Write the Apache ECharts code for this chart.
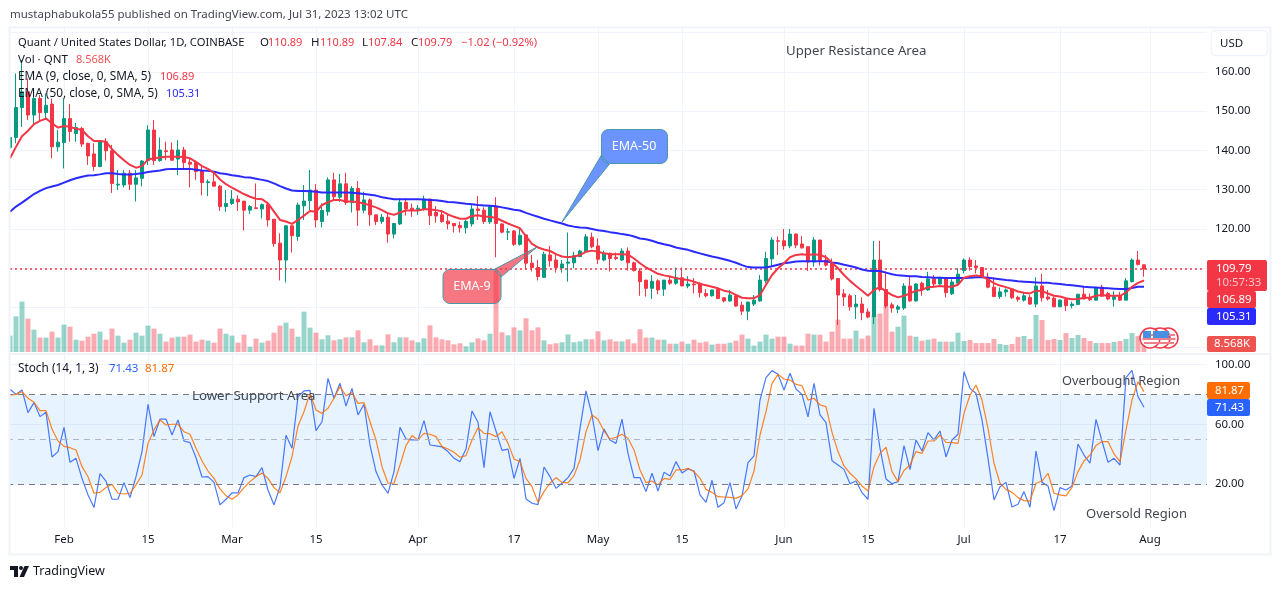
<!DOCTYPE html>
<html>
<head>
<meta charset="utf-8">
<title>QNT/USD</title>
<script src="https://cdn.jsdelivr.net/npm/echarts@6/dist/echarts.min.js"></script>
<style>
html, body { margin: 0; padding: 0; background: #fff; }
#chart { width: 1281px; height: 589px; }
</style>
</head>
<body>
<div id="chart"></div>
<script>
// daily candles, 23 Jan to 31 Jul 2023
var opens = [
    140.7,143.3,150.9,154.9,149.0,153.2,149.6,151.8,140.9,142.0,
    148.1,144.3,145.6,141.8,139.1,135.9,142.2,139.9,131.2,131.2,
    134.2,131.4,132.9,137.4,145.2,137.4,139.9,140.1,137.8,140.1,
    137.0,136.9,134.8,131.8,132.0,130.9,125.7,126.5,127.6,127.1,
    124.8,125.4,125.1,126.2,122.5,116.4,112.1,120.8,118.1,125.9,
    127.2,129.9,121.9,124.4,132.5,128.1,131.5,126.7,130.3,124.8,
    127.4,123.6,121.9,123.0,118.7,121.3,126.8,125.3,125.0,125.0,
    127.6,124.2,123.6,122.0,121.4,120.9,120.3,121.3,125.1,124.8,
    121.8,125.7,121.3,119.2,119.5,116.1,118.5,111.3,110.2,107.7,
    113.4,112.1,110.1,111.3,111.4,113.0,114.2,117.9,115.7,112.1,
    113.8,112.8,112.1,114.4,111.4,109.3,107.0,104.9,106.8,104.7,
    107.0,106.2,107.6,105.5,106.0,106.2,103.6,103.0,104.7,102.5,
    101.7,103.0,100.6,99.1,100.9,101.7,106.8,112.4,117.0,117.0,
    115.7,118.7,116.2,115.5,111.6,117.2,112.1,111.3,107.4,103.5,
    103.0,100.2,100.9,98.9,97.7,112.1,104.6,100.7,99.6,99.9,
    105.5,101.7,106.2,104.5,107.3,106.0,107.5,103.5,106.2,109.4,
    112.1,110.6,110.2,107.7,105.2,102.8,104.0,104.7,102.6,101.9,
    102.6,100.9,105.5,102.7,102.4,100.2,102.1,100.5,100.8,103.4,
    102.4,101.9,105.2,103.6,102.1,103.0,101.9,106.6,112.1,110.89
];
var closes = [
    143.3,150.9,154.9,149.0,153.2,149.6,151.5,140.9,142.1,148.1,
    144.8,145.8,141.6,138.6,135.9,142.2,139.9,131.6,131.4,134.2,
    131.4,133.0,137.3,145.2,137.4,140.1,139.7,137.5,140.1,136.9,
    136.5,134.6,131.8,132.0,130.9,125.7,126.5,127.6,126.9,124.8,
    125.7,125.2,126.2,122.3,116.3,112.1,120.8,118.3,126.1,127.1,
    129.9,122.3,124.7,132.5,128.2,131.5,126.7,130.3,124.8,127.4,
    123.6,121.9,123.0,118.7,121.4,126.8,125.1,124.8,125.3,127.6,
    123.4,123.3,121.9,121.3,120.8,120.3,121.9,125.1,124.7,121.9,
    125.7,121.4,119.2,119.3,116.1,118.4,111.3,110.2,107.9,113.6,
    111.9,110.2,111.1,111.6,113.2,114.4,118.0,115.5,112.3,113.6,
    112.5,112.5,114.4,111.4,109.4,106.6,104.9,106.7,104.5,107.0,
    106.2,107.6,105.5,106.0,105.8,103.8,103.0,104.5,102.3,101.7,
    103.2,100.4,99.1,101.4,101.9,107.0,112.5,117.2,116.9,115.7,
    118.7,115.9,115.2,111.6,117.2,111.9,110.8,107.3,103.2,102.7,
    100.2,100.9,98.7,97.6,112.1,104.6,100.4,99.9,100.2,105.5,
    101.7,106.0,104.5,107.3,106.0,107.6,103.8,106.5,108.5,112.1,
    110.4,110.2,107.7,105.2,102.8,104.0,104.5,102.5,102.1,103.0,
    100.9,105.5,102.5,102.2,100.2,101.9,100.5,100.9,103.4,102.2,
    102.0,105.1,102.9,102.2,102.8,101.9,106.8,112.1,111.0,109.79
];
var highs = [
    145.2,159.6,163.0,158.3,155.8,154.1,154.5,153.2,145.2,153.2,
    151.8,147.0,146.0,142.0,141.8,142.6,143.1,141.4,135.0,135.0,
    135.0,135.0,137.5,146.4,147.7,143.3,142.2,142.0,142.6,140.9,
    138.0,137.4,136.3,132.6,134.6,131.2,129.9,129.9,128.6,127.1,
    126.1,131.6,126.5,126.9,122.5,118.9,121.0,121.0,126.7,131.2,
    135.0,131.4,126.5,133.1,134.3,134.0,134.3,130.9,132.2,129.5,
    127.8,123.7,123.8,124.0,121.4,127.8,127.8,126.5,126.1,128.5,
    127.8,125.8,124.8,123.6,121.4,121.9,122.3,126.1,128.4,125.5,
    126.1,128.1,121.4,120.2,119.7,120.4,118.6,113.4,112.1,114.2,
    115.7,113.4,112.1,119.1,114.2,114.7,118.7,119.1,117.6,114.5,
    114.0,114.0,115.1,115.3,111.7,110.0,107.0,108.3,107.2,107.0,
    107.9,110.2,110.2,108.0,107.5,106.4,104.7,104.5,104.7,102.5,
    104.5,103.2,101.5,101.5,103.2,108.3,114.2,117.9,118.1,120.0,
    120.0,118.9,118.2,115.5,117.9,117.2,113.4,112.5,107.4,104.7,
    103.5,103.2,102.6,99.8,117.0,117.0,109.2,101.3,100.7,106.2,
    108.0,106.2,106.6,109.1,108.3,107.9,107.5,107.2,110.0,112.5,
    112.8,112.1,110.2,108.9,107.7,105.1,104.9,104.9,103.0,104.0,
    103.2,107.7,108.6,104.5,102.8,102.1,102.4,101.5,103.5,105.3,
    103.6,105.3,105.8,104.0,104.2,104.0,107.5,112.5,114.4,110.89
];
var lows = [
    139.2,141.8,146.0,147.7,146.4,147.3,147.7,138.0,139.7,135.4,
    142.2,142.2,140.9,136.3,134.8,135.7,137.4,129.2,129.9,130.6,
    129.9,127.0,130.8,136.3,136.3,137.1,137.5,137.4,133.7,135.0,
    130.6,132.5,128.6,128.4,130.8,124.6,124.4,126.1,124.6,119.6,
    123.8,125.2,122.7,120.6,115.5,106.9,106.4,114.0,117.0,122.3,
    124.8,120.4,120.4,123.4,127.4,126.9,126.1,124.2,120.8,124.0,
    120.8,121.0,121.3,116.5,117.6,121.0,123.4,123.1,123.6,124.7,
    121.0,121.6,121.6,119.9,119.1,119.1,118.9,120.6,122.3,121.3,
    121.3,112.8,118.9,117.2,115.7,115.8,109.7,109.2,106.9,107.7,
    110.4,108.9,108.9,106.6,110.0,112.8,114.0,115.1,111.1,111.8,
    109.2,112.1,111.9,109.4,109.2,103.0,102.8,102.2,103.4,103.0,
    105.8,105.8,105.5,104.9,103.6,102.6,102.6,102.8,102.2,101.3,
    101.5,100.2,98.1,96.8,100.4,101.5,106.2,110.4,113.4,114.7,
    115.1,115.1,115.0,109.3,110.4,110.7,110.4,106.9,95.6,100.4,
    99.2,97.1,96.8,97.3,95.8,104.1,99.8,98.7,98.6,99.4,
    101.5,101.5,103.0,104.3,105.2,105.8,102.6,103.2,105.8,108.7,
    109.4,108.7,107.5,104.9,102.8,102.2,102.8,102.2,101.5,101.5,
    100.7,100.1,101.5,101.8,100.1,100.1,99.1,99.8,100.7,102.1,
    101.7,101.8,102.8,101.9,100.2,101.7,101.8,106.4,110.7,107.84
];
var volumes = [
    17.5,38.2,53.9,35.7,23.9,15.4,15.4,21.8,15.4,29.3,
    27.1,13.2,12.1,16.4,19.6,21.8,13.2,25.0,17.5,10.0,
    13.2,20.7,17.5,28.2,25.0,19.6,11.1,15.4,16.4,16.4,
    18.6,11.1,13.2,12.1,10.0,25.0,19.6,17.5,10.0,18.6,
    5.7,14.3,10.0,12.1,20.7,28.2,31.4,25.0,16.4,43.2,
    26.1,20.7,13.6,17.9,12.5,13.6,15.7,15.7,23.2,10.4,
    13.6,7.1,7.1,18.9,10.4,15.7,15.7,12.5,10.4,14.6,
    28.6,15.7,13.6,12.5,8.2,9.3,6.1,10.4,14.6,12.5,
    19.6,87.5,21.1,17.9,26.4,23.2,36.1,23.2,26.4,12.5,
    8.2,9.3,10.4,18.9,10.4,11.4,13.6,13.6,22.1,12.5,
    13.6,11.4,11.4,13.6,9.3,24.3,15.4,15.4,13.2,13.2,
    8.9,8.9,11.1,8.9,13.2,10.0,11.1,7.9,8.9,8.9,
    10.0,12.1,18.6,14.3,6.8,11.1,18.6,14.3,16.4,16.4,
    8.9,6.8,6.8,19.6,18.6,18.6,11.1,21.8,34.6,14.3,
    14.3,22.8,14.3,17.5,40.0,41.1,49.6,21.8,27.1,38.9,
    17.5,16.4,12.1,13.2,14.3,11.1,11.1,11.1,20.7,11.8,
    12.9,9.6,9.6,9.6,13.9,8.6,7.5,8.6,16.1,17.1,
    13.9,39.6,34.3,12.9,13.9,12.9,20.3,15.0,18.2,15.0,
    11.8,9.6,9.6,9.6,10.7,11.8,13.9,20.3,17.1,8.568
];
var ema9 = [
    138.0,140.9,143.6,145.0,146.7,147.5,148.1,146.9,145.8,146.2,
    146.0,145.5,145.2,143.6,142.4,142.4,142.2,140.3,138.8,137.5,
    136.3,135.6,136.0,137.7,138.0,138.2,138.4,138.4,138.4,138.3,
    138.0,137.1,136.0,135.3,134.3,132.6,131.4,130.5,129.7,128.9,
    128.2,127.7,127.6,126.5,124.4,122.3,121.9,121.3,122.3,123.4,
    124.6,124.4,126.1,126.8,127.4,127.4,127.0,127.0,126.8,126.5,
    126.0,125.5,124.8,124.0,123.6,124.2,124.7,124.7,124.7,125.0,
    125.0,124.8,124.5,123.7,123.1,122.6,122.6,123.3,123.5,123.1,
    123.1,122.8,122.1,121.4,120.8,120.2,118.1,116.2,115.3,114.8,
    114.4,113.6,113.0,112.8,113.0,113.4,114.2,114.5,114.2,113.8,
    113.6,113.6,113.6,113.5,112.5,111.3,110.2,109.4,108.6,108.2,
    107.9,107.5,107.2,107.0,106.6,106.0,105.7,105.3,104.9,104.3,
    104.0,103.2,102.5,102.4,102.4,103.2,105.8,108.3,110.0,111.3,
    112.8,113.4,113.6,113.4,113.6,113.4,112.8,111.4,110.0,108.3,
    106.8,105.5,104.3,103.0,104.5,105.2,104.1,103.2,102.6,103.0,
    103.6,104.3,104.5,105.2,105.3,105.5,105.3,105.3,105.8,107.6,
    108.0,108.2,107.9,107.2,106.2,105.6,105.2,104.7,104.1,103.8,
    103.6,104.3,104.2,103.6,103.0,102.8,102.4,102.1,102.2,102.5,
    102.5,103.0,103.2,103.0,103.0,103.0,103.8,105.3,106.3,106.89
];
var ema50 = [
    124.4,125.7,126.7,127.8,128.9,129.7,130.4,130.8,131.2,131.8,
    132.4,132.9,133.3,133.6,133.7,133.9,134.2,134.2,134.0,133.9,
    133.9,134.0,134.2,134.5,134.7,134.9,135.2,135.3,135.3,135.3,
    135.3,135.1,134.9,134.8,134.6,134.2,134.0,133.7,133.5,133.2,
    133.1,132.8,132.5,132.2,131.6,130.9,130.3,129.8,129.7,129.7,
    129.6,129.5,129.3,129.3,129.3,129.3,129.3,129.2,129.1,128.9,
    128.7,128.5,128.1,127.8,127.6,127.6,127.6,127.6,127.6,127.5,
    127.4,127.3,127.1,126.9,126.8,126.6,126.4,126.3,126.1,126.0,
    125.9,125.8,125.5,125.2,124.9,124.7,124.1,123.6,123.1,122.6,
    122.2,121.8,121.4,120.9,120.6,120.4,120.3,120.0,119.7,119.5,
    119.2,119.0,118.7,118.5,118.1,117.6,117.4,117.0,116.5,116.1,
    115.8,115.3,115.0,114.7,114.2,113.8,113.4,113.0,112.7,112.3,
    111.9,111.4,110.8,110.3,110.2,110.2,110.2,110.5,110.9,111.3,
    111.5,111.7,111.8,111.8,111.8,111.8,111.8,111.5,111.3,110.9,
    110.6,110.2,109.7,109.4,109.3,109.3,108.9,108.5,108.2,108.1,
    108.0,108.0,107.8,107.7,107.6,107.6,107.5,107.5,107.5,107.5,
    107.6,107.7,107.7,107.6,107.4,107.2,107.0,106.9,106.7,106.6,
    106.5,106.4,106.3,106.3,106.1,106.0,105.8,105.7,105.5,105.3,
    105.2,105.1,105.0,104.9,104.8,104.7,104.7,105.0,105.3,105.31
];
var stochK = [
    83.4,80.0,83.0,67.8,74.5,65.1,68.0,38.1,41.7,57.9,
    34.5,37.2,23.8,12.7,4.2,26.9,22.0,9.8,9.8,20.9,
    10.9,24.9,41.7,73.4,51.7,63.5,63.5,52.8,62.9,48.8,
    47.7,37.6,24.7,24.9,21.1,6.0,9.8,14.0,14.0,24.3,
    26.0,24.9,31.0,16.0,6.0,18.2,52.6,43.9,78.5,82.3,
    82.7,55.7,61.7,90.7,77.4,87.4,72.2,84.0,66.2,73.4,
    46.1,28.3,19.4,13.8,28.3,57.9,50.1,49.5,49.5,62.4,
    46.1,45.5,44.8,41.7,37.2,35.0,43.4,68.9,61.3,31.0,
    68.4,55.5,42.5,43.4,23.8,37.2,10.0,7.1,6.2,31.4,
    24.9,17.1,20.5,24.3,30.5,57.3,82.3,66.2,42.3,56.8,
    49.5,47.2,63.5,40.5,24.3,24.3,14.9,27.2,15.3,27.8,
    25.4,35.0,27.4,30.1,28.7,12.7,7.7,22.5,4.4,7.5,
    20.9,3.3,12.0,34.3,38.8,76.2,91.2,95.9,93.4,82.9,
    94.1,83.6,80.0,64.9,87.4,66.2,61.1,35.6,32.7,29.8,
    20.2,22.0,14.2,9.8,70.7,43.9,23.4,20.2,21.6,45.7,
    29.6,49.5,42.1,54.4,49.5,55.5,38.1,49.5,53.3,95.2,
    84.0,80.7,62.9,37.2,9.3,18.2,21.1,4.6,6.4,14.9,
    4.4,42.1,21.1,18.7,2.2,17.6,16.0,18.7,46.8,39.4,
    33.9,63.3,48.8,34.5,37.2,32.7,91.2,96.1,78.5,71.43
];
var stochD = [
    79.6,80.0,81.8,77.4,74.7,69.1,69.1,56.8,48.8,45.2,
    44.3,42.8,31.6,24.9,13.8,14.4,17.6,19.8,13.8,13.3,
    13.8,19.4,26.0,47.2,56.2,62.9,59.5,60.0,60.0,55.0,
    53.3,43.9,35.4,28.7,23.8,16.7,12.2,9.8,12.7,17.6,
    21.6,24.9,27.4,23.8,17.6,14.2,24.9,38.3,58.8,68.4,
    80.7,69.5,67.3,70.7,77.4,85.2,79.1,81.2,74.0,74.5,
    61.7,49.5,31.6,20.5,20.5,32.7,45.7,52.4,49.5,53.9,
    53.3,51.7,45.0,43.4,41.2,37.9,39.0,49.5,57.7,53.9,
    53.7,51.7,55.0,47.2,36.7,35.0,23.8,18.2,7.7,14.9,
    20.5,24.3,21.1,20.7,25.6,36.1,55.0,66.2,63.3,55.5,
    50.1,51.3,53.3,50.6,42.8,29.4,20.9,22.0,19.4,23.8,
    23.1,29.4,29.4,30.5,28.3,23.8,16.4,14.4,11.5,11.3,
    11.1,10.4,12.2,16.7,28.7,52.8,68.4,87.4,93.4,90.3,
    89.6,86.7,85.8,76.2,77.4,72.9,71.8,54.6,41.7,32.1,
    27.2,23.4,18.7,15.3,31.6,40.5,44.6,28.3,21.6,29.0,
    32.7,41.7,40.5,48.8,48.8,52.8,47.9,47.7,47.2,67.3,
    79.6,86.3,76.2,57.3,33.9,20.5,16.4,14.4,10.9,8.9,
    8.6,20.5,22.0,27.2,13.8,12.7,12.0,17.8,28.3,35.4,
    39.4,45.7,48.4,48.4,40.1,35.0,56.2,76.2,88.5,81.87
];
// month ticks: category index -> label
var tickIndex = [9, 23, 37, 51, 68, 84, 98, 112, 129, 143, 159, 175, 190];
var tickLabels = ['Feb', '15', 'Mar', '15', 'Apr', '17', 'May', '15', 'Jun', '15', 'Jul', '17', 'Aug'];
var priceLines = [170, 160, 150, 140, 130, 120, 110, 100, 90];
var priceLabels = [160, 150, 140, 130, 120];
var stochLines = [100, 60, 20];
var lastClose = 109.79;

var UP = '#089981', DOWN = '#F23645';
var FONT = '"Noto Sans", sans-serif';

// 200 daily slots so the empty right side of the chart keeps the 6px day width
var days = [];
for (var d = 0; d < 200; d++) {
    days.push(new Date(Date.UTC(2023, 0, 23 + d)).toISOString().slice(0, 10));
}

var candles = opens.map(function (o, i) {
    return [o, closes[i], lows[i], highs[i]];
});
var volumeBars = volumes.map(function (v, i) {
    return {
        value: v,
        itemStyle: { color: closes[i] >= opens[i] ? 'rgba(8,153,129,0.42)' : 'rgba(242,54,69,0.42)' }
    };
});
// last close held across the pane, drawn as the dotted price line
var lastCloseLine = days.map(function () { return lastClose; });

function isTick(index) {
    return tickIndex.indexOf(index) >= 0;
}

function timeAxis(gridIndex, withLabels) {
    return {
        type: 'category',
        gridIndex: gridIndex,
        data: days,
        axisLine: { show: false },
        axisTick: { show: false },
        axisLabel: {
            show: withLabels,
            interval: function (index) { return isTick(index); },
            formatter: function (value, index) {
                var n = tickIndex.indexOf(index);
                return n >= 0 ? tickLabels[n] : '';
            },
            color: '#131722',
            fontFamily: FONT,
            fontSize: 11.5,
            margin: 7
        },
        splitLine: {
            show: gridIndex !== 1,
            alignWithLabel: true,
            interval: function (index) { return isTick(index); },
            lineStyle: { color: '#f0f3fa', width: 1 }
        }
    };
}

// ---- everything around the plot: header, legends, price boxes, notes
var overlay = [];

function txt(x, y, text, color, size, weight, align) {
    overlay.push({
        type: 'text', x: x, y: y + 1, z: 100,
        style: {
            text: text, fill: color || '#131722',
            font: (weight || 'normal') + ' ' + (size || 11.5) + 'px ' + FONT,
            align: align || 'left', verticalAlign: 'middle',
            textAlign: align || 'left', textVerticalAlign: 'middle'
        }
    });
}

function box(x, y, w, h, color, r) {
    overlay.push({
        type: 'rect', z: 90,
        shape: { x: x, y: y, width: w, height: h, r: r || 0 },
        style: { fill: color }
    });
}

function callout(x, y, w, h, tail, fill, text, textX) {
    var pts = [], r = 7;
    var corners = [[x + w - r, y + r, -90], [x + w - r, y + h - r, 0], [x + r, y + h - r, 90], [x + r, y + r, 180]];
    var slot = tail.after;
    corners.forEach(function (c, n) {
        for (var a = 0; a <= 90; a += 15) {
            var rad = (c[2] + a) * Math.PI / 180;
            pts.push([c[0] + r * Math.cos(rad), c[1] + r * Math.sin(rad)]);
        }
        if (n === slot) {
            tail.points.forEach(function (p) { pts.push(p); });
        }
    });
    overlay.push({
        type: 'polygon', z: 80,
        shape: { points: pts },
        style: { fill: fill, stroke: '#4a97a8', lineWidth: 1 }
    });
    txt(textX, y + h / 2 - 1, text, '#ffffff', 12.5, 'normal', 'center');
}

function flag(cx, cy) {
    overlay.push({ type: 'circle', z: 85, shape: { cx: cx, cy: cy, r: 10 }, style: { fill: '#ffffff', stroke: '#F23645', lineWidth: 1.5 } });
    overlay.push({ type: 'rect', z: 86, shape: { x: cx - 7, y: cy - 4, width: 14, height: 2 }, style: { fill: '#f0808a' } });
    overlay.push({ type: 'rect', z: 86, shape: { x: cx - 7.5, y: cy, width: 15, height: 2 }, style: { fill: '#f0808a' } });
    overlay.push({ type: 'rect', z: 86, shape: { x: cx - 6, y: cy + 4, width: 12, height: 2 }, style: { fill: '#f0808a' } });
    overlay.push({ type: 'rect', z: 87, shape: { x: cx - 7, y: cy - 7, width: 8, height: 7 }, style: { fill: '#4a90e2' } });
}

// frame pieces
overlay.push({ type: 'rect', z: 60, shape: { x: 0, y: 28, width: 9, height: 527 }, style: { fill: '#ffffff' } });
overlay.push({ type: 'rect', z: 61, shape: { x: 9.5, y: 27.5, width: 1261, height: 527 }, style: { fill: 'none', stroke: '#f0f3fa', lineWidth: 2 } });
overlay.push({ type: 'line', z: 61, shape: { x1: 10, y1: 354, x2: 1270, y2: 354 }, style: { stroke: '#f0f3fa', lineWidth: 2 } });
overlay.push({ type: 'rect', z: 61, shape: { x: 1211.5, y: 30.5, width: 56, height: 25, r: 4 }, style: { fill: '#fff', stroke: '#f0f3fa', lineWidth: 1.5 } });
txt(1220, 43, 'USD');

txt(10, 14, 'mustaphabukola55 published on TradingView.com, Jul 31, 2023 13:02 UTC', '#434651');

// pane legends
txt(18, 42, 'Quant / United States Dollar, 1D, COINBASE', '#131722', 11.2);
txt(260, 42, 'O'); txt(268, 42, '110.89', DOWN, 11);
txt(311, 42, 'H'); txt(320, 42, '110.89', DOWN, 11);
txt(362, 42, 'L'); txt(368, 42, '107.84', DOWN, 11);
txt(411, 42, 'C'); txt(418, 42, '109.79', DOWN, 11);
txt(461, 42, '\u22121.02 (\u22120.92%)', DOWN, 11.2);
txt(18, 59, 'Vol \u00b7 QNT'); txt(76, 59, '8.568K', '#ef5350', 11);
txt(18, 76, 'EMA (9, close, 0, SMA, 5)', '#131722', 11.8); txt(160, 76, '106.89', DOWN, 11);
txt(18, 93, 'EMA (50, close, 0, SMA, 5)', '#131722', 11.8); txt(166, 93, '105.31', '#2a2aff', 11);
txt(18, 368, 'Stoch (14, 1, 3)', '#131722', 11.8); txt(109, 368, '71.43', '#2962ff', 11.5); txt(145, 368, '81.87', '#ff6d00', 11.5);

// notes typed on the chart
txt(786, 50, 'Upper Resistance Area', '#434651', 13.25);
txt(192, 395, 'Lower Support Area', '#434651', 13.25);
txt(1062, 380, 'Overbought Region', '#434651', 12.8);
txt(1086, 513, 'Oversold Region', '#434651', 13);

callout(601.5, 129.5, 66, 34, { after: 1, points: [[610, 163.5], [562, 222], [601.5, 155]] }, 'rgba(66,118,255,0.78)', 'EMA-50', 634);
callout(443, 269.5, 58, 34, { after: 3, points: [[494, 269.5], [537, 247], [501, 277]] }, 'rgba(242,54,69,0.68)', 'EMA-9', 472);

// last value boxes on the price scales
box(1207, 260, 60, 31, DOWN, 2);
txt(1216, 268, '109.79', '#ffffff', 11.4);
txt(1216, 282, '10:57:33', 'rgba(255,255,255,0.7)', 11.4);
box(1207, 291, 49, 17, DOWN, 2);
txt(1216, 298.5, '106.89', '#ffffff', 11.4);
box(1207, 308, 49, 17, '#2a2aff', 2);
txt(1216, 315.5, '105.31', '#ffffff', 11.4);
box(1207, 336, 49, 16, '#ef5350', 2);
txt(1214, 343, '8.568K', '#ffffff', 11.4);
box(1207, 382, 43, 17, '#ff6d00', 2);
txt(1215, 389.5, '81.87', '#ffffff', 11.4);
box(1207, 399, 43, 17, '#2962ff', 2);
txt(1215, 406.5, '71.43', '#ffffff', 11.4);

flag(1168, 338);
flag(1160, 338);
flag(1150, 338);

// TradingView mark
overlay.push({ type: 'polygon', z: 100, shape: { points: [[10, 566], [18, 566], [18, 577], [14, 577], [14, 570], [10, 570]] }, style: { fill: '#131722' } });
overlay.push({ type: 'circle', z: 100, shape: { cx: 21, cy: 568, r: 2 }, style: { fill: '#131722' } });
overlay.push({ type: 'polygon', z: 100, shape: { points: [[24.5, 566], [29, 566], [24, 577], [19.5, 577]] }, style: { fill: '#131722' } });
txt(33, 570.5, 'TradingView', '#131722', 12.5);

var chart = echarts.init(document.getElementById('chart'));
chart.setOption({
    animation: false,
    backgroundColor: '#ffffff',
    textStyle: { fontFamily: FONT },
    grid: [
        { left: 7, top: 28, width: 1200, height: 326 },   // price
        { left: 7, top: 228, width: 1200, height: 124 },  // volume, over the price pane
        { left: 7, top: 355, width: 1200, height: 172 }   // stochastic
    ],
    xAxis: [timeAxis(0, false), timeAxis(1, false), timeAxis(2, true)],
    yAxis: [
        {
            gridIndex: 0, position: 'right', min: 88.19, max: 171.15,
            axisLine: { show: false },
            axisTick: { show: false, customValues: priceLines },
            axisLabel: {
                customValues: priceLabels, color: '#131722', fontSize: 11.4, fontFamily: FONT, margin: 8,
                padding: [2, 0, 0, 0],
                formatter: function (v) { return v.toFixed(2); }
            },
            splitLine: { show: true, lineStyle: { color: '#f0f3fa', width: 1 } }
        },
        {
            gridIndex: 1, min: 0, max: 132.7, show: false
        },
        {
            gridIndex: 2, position: 'right', min: -8.78, max: 106.36,
            axisLine: { show: false },
            axisTick: { show: false, customValues: stochLines },
            axisLabel: {
                customValues: stochLines, color: '#131722', fontSize: 11.4, fontFamily: FONT, margin: 8,
                padding: [2, 0, 0, 0],
                formatter: function (v) { return v.toFixed(2); }
            },
            splitLine: { show: true, lineStyle: { color: '#f0f3fa', width: 1 } }
        }
    ],
    series: [
        {
            name: 'Vol', type: 'bar', xAxisIndex: 1, yAxisIndex: 1, barWidth: 5,
            data: volumeBars
        },
        {
            name: 'Last', type: 'line', xAxisIndex: 0, yAxisIndex: 0, symbol: 'none', silent: true,
            lineStyle: { color: '#F23645', type: [2, 3], width: 1.5 },
            data: lastCloseLine
        },
        {
            name: 'QNT', type: 'candlestick', xAxisIndex: 0, yAxisIndex: 0, barWidth: 4.4,
            itemStyle: { color: UP, color0: DOWN, borderColor: UP, borderColor0: DOWN, borderWidth: 1 },
            data: candles
        },
        {
            name: 'EMA 50', type: 'line', xAxisIndex: 0, yAxisIndex: 0, symbol: 'none',
            lineStyle: { color: '#2a2aff', width: 2 },
            data: ema50
        },
        {
            name: 'EMA 9', type: 'line', xAxisIndex: 0, yAxisIndex: 0, symbol: 'none',
            lineStyle: { color: '#F23645', width: 2 },
            data: ema9
        },
        {
            name: '%K', type: 'line', xAxisIndex: 2, yAxisIndex: 2, symbol: 'none',
            lineStyle: { color: '#2962ff', width: 1.2, opacity: 0.85 },
            data: stochK,
            markArea: {
                silent: true,
                itemStyle: { color: 'rgba(33,150,243,0.11)' },
                data: [[{ yAxis: 80 }, { yAxis: 20 }]]
            },
            markLine: {
                silent: true, symbol: 'none', label: { show: false },
                data: [
                    { yAxis: 80, lineStyle: { color: '#787b86', type: [6, 5], width: 1 } },
                    { yAxis: 50, lineStyle: { color: '#b2b5be', type: [6, 5], width: 1 } },
                    { yAxis: 20, lineStyle: { color: '#787b86', type: [6, 5], width: 1 } }
                ]
            }
        },
        {
            name: '%D', type: 'line', xAxisIndex: 2, yAxisIndex: 2, symbol: 'none',
            lineStyle: { color: '#ff6d00', width: 1.2, opacity: 0.85 },
            data: stochD
        }
    ],
    graphic: { elements: overlay }
});

window.onresize = function () {
    chart.resize();
};
</script>
</body>
</html>
